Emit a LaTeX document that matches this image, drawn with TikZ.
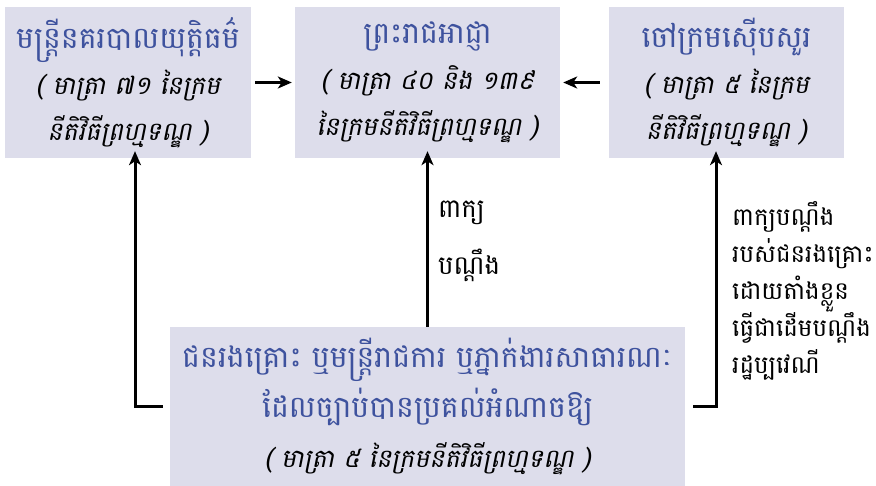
\documentclass[tikz,border=0pt]{standalone}
\usepackage{fontspec}
\newfontfamily\km[Script=Khmer]{Battambang}
\newfontfamily\kmit[Script=Khmer,FakeSlant=0.2]{Battambang}
\usetikzlibrary{arrows.meta}
\definecolor{boxfill}{RGB}{221,221,235}
\definecolor{titleblue}{RGB}{62,82,158}
\newcommand\kttl[1]{{\color{titleblue}\fontsize{30}{46}\selectfont #1}}
\newcommand\ksub[1]{{\kmit\fontsize{25.5}{46}\selectfont #1}}
\tikzset{
  box/.style={fill=boxfill, draw=none, inner sep=0pt, align=center,
    font=\km\fontsize{26}{46}\selectfont},
  arr/.style={line width=3pt, -{Stealth[length=14pt,width=12pt,inset=4pt]}},
  lbl/.style={font=\km\fontsize{24.5}{37}\selectfont, align=left, anchor=west, inner sep=0pt}
}
\begin{document}
\begin{tikzpicture}[x=1pt,y=-1pt]
\useasboundingbox (0,0) rectangle (876,486);
\node[box, minimum width=246pt, minimum height=151pt] (b1) at (128,82.5)
  {\kttl{មន្ត្រីនគរបាលយុត្តិធម៌}\\ \ksub{( មាត្រា ៧១ នៃក្រម}\\ \ksub{នីតិវិធីព្រហ្មទណ្ឌ )}};
\node[box, minimum width=265pt, minimum height=151pt] (b2) at (427.5,82.5)
  {\kttl{ព្រះរាជអាជ្ញា}\\ \ksub{( មាត្រា ៤០ និង ១៣៩}\\ \ksub{នៃក្រមនីតិវិធីព្រហ្មទណ្ឌ )}};
\node[box, minimum width=235pt, minimum height=151pt] (b3) at (726.5,82.5)
  {\kttl{ចៅក្រមស៊ើបសួរ}\\ \ksub{( មាត្រា ៥ នៃក្រម}\\ \ksub{នីតិវិធីព្រហ្មទណ្ឌ )}};
\node[box, minimum width=515pt, minimum height=159pt, font=\km\fontsize{26}{50}\selectfont] (b4) at (427.5,406.5)
  {\kttl{ជនរងគ្រោះ ឬមន្ត្រីរាជការ ឬភ្នាក់ងារសាធារណៈ}\\ \kttl{ដែលច្បាប់បានប្រគល់អំណាចឱ្យ}\\ \ksub{( មាត្រា ៥ នៃក្រមនីតិវិធីព្រហ្មទណ្ឌ )}};
% horizontal arrows
\draw[arr] ([xshift=4pt]b1.east) -- ([xshift=-3pt]b2.west);
\draw[arr] ([xshift=-9pt]b3.west) -- ([xshift=3pt]b2.east);
% vertical arrows
\draw[arr] ([xshift=-7pt]b4.west) -| ([xshift=7pt,yshift=7pt]b1.south);
\draw[arr] (b4.north) -- ([yshift=7pt]b2.south);
\draw[arr] ([xshift=8pt]b4.east) -| ([xshift=-10.5pt,yshift=7pt]b3.south);
% labels
\node[lbl, font=\km\fontsize{26}{57}\selectfont] (l1) at (438,241) {ពាក្យ\\បណ្ដឹង};
\node[lbl] (l2) at (732,291) {ពាក្យបណ្ដឹង\\របស់ជនរងគ្រោះ\\ដោយតាំងខ្លួន\\ធ្វើជាដើមបណ្ដឹង\\រដ្ឋប្បវេណី};
\end{tikzpicture}
\end{document}
